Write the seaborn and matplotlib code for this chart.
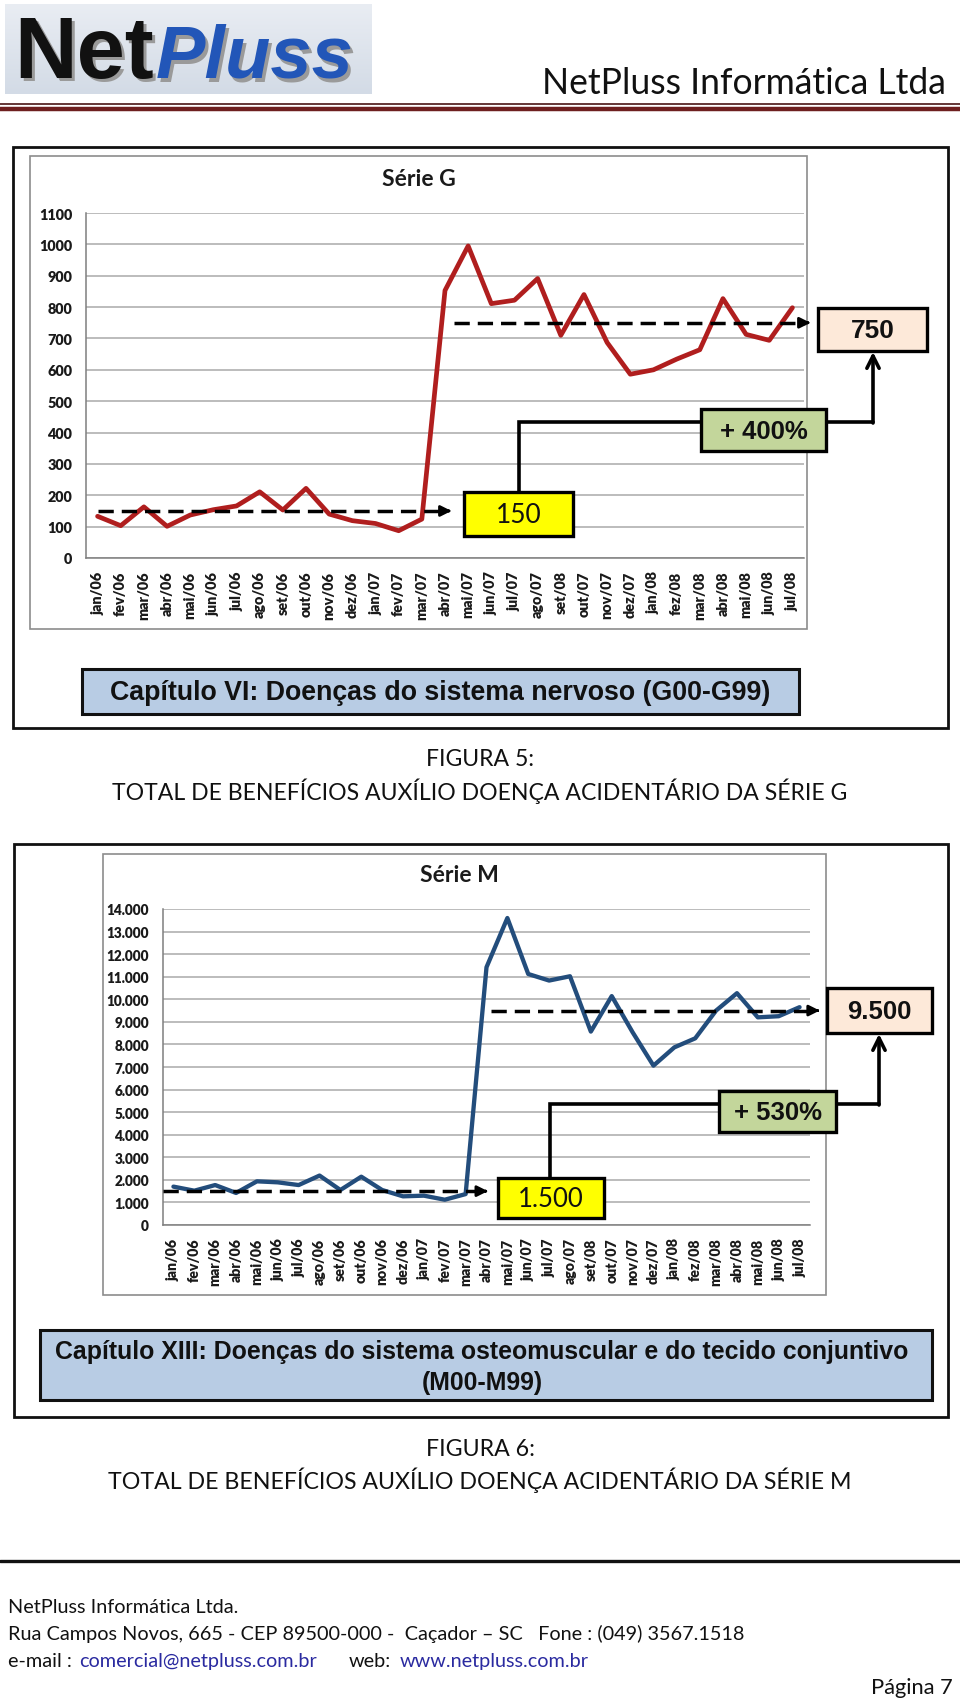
import numpy as np
import pandas as pd
import matplotlib
matplotlib.use("Agg")
import matplotlib.pyplot as plt
import seaborn as sns
from matplotlib.patches import Rectangle
from matplotlib.ticker import FixedLocator

# ---------------- data ----------------
months = ["jan/06", "fev/06", "mar/06", "abr/06", "mai/06", "jun/06", "jul/06", "ago/06",
          "set/06", "out/06", "nov/06", "dez/06", "jan/07", "fev/07", "mar/07", "abr/07",
          "mai/07", "jun/07", "jul/07", "ago/07", "set/08", "out/07", "nov/07", "dez/07",
          "jan/08", "fez/08", "mar/08", "abr/08", "mai/08", "jun/08", "jul/08"]

serie_g = [133, 103, 163, 101, 137, 154, 166, 211, 153, 222, 140, 119, 110, 87, 124,
           853, 995, 811, 822, 891, 710, 840, 687, 586, 600, 634, 664, 827, 713, 694, 798]

serie_m = [1700, 1520, 1770, 1420, 1935, 1890, 1770, 2190, 1550, 2140, 1550, 1270, 1300,
           1120, 1370, 11420, 13600, 11120, 10830, 11020, 8570, 10140, 8540, 7060, 7870,
           8270, 9500, 10270, 9200, 9250, 9650]

g_yticks = list(range(0, 1101, 100))
g_ylabels = [str(v) for v in g_yticks]
m_yticks = list(range(0, 14001, 1000))
m_ylabels = [f"{v:,}".replace(",", ".") for v in m_yticks]

g_levels = [150, 750]
g_level_labels = ["150", "750"]
g_change = "+ 400%"
m_levels = [1500, 9500]
m_level_labels = ["1.500", "9.500"]
m_change = "+ 530%"

# ---------------- style ----------------
sns.set_style("white")
plt.rcParams["font.family"] = ["Lato", "DejaVu Sans"]

W, H = 960, 1699
fig = plt.figure(figsize=(W / 100, H / 100), dpi=100)
fig.patch.set_facecolor("white")


def page_axes(z):
    a = fig.add_axes([0, 0, 1, 1], zorder=z)
    a.set_xlim(0, W)
    a.set_ylim(H, 0)
    a.axis("off")
    a.patch.set_alpha(0)
    return a


bg = page_axes(0)
ov = page_axes(20)


def fit(t, target_w):
    r = fig.canvas.get_renderer()
    w = t.get_window_extent(r).width
    t.set_fontsize(t.get_fontsize() * target_w / w)
    return t


def px_rect(x0, y0, x1, y1):
    return [x0 / W, 1 - y1 / H, (x1 - x0) / W, (y1 - y0) / H]


# ---------------- header ----------------
grad = np.linspace(0, 1, 100).reshape(-1, 1)
bg.imshow(grad, extent=(5, 372, 95, 5), cmap=matplotlib.colors.LinearSegmentedColormap.from_list(
    "lg", ["#e9edf3", "#d3dbe6"]), aspect="auto", zorder=0)
for dx, col in [(3, "#9a9a9a"), (0, "#111111")]:
    t = bg.text(14 + dx, 78 + dx, "Net", fontsize=50, fontweight="bold",
                family=["Liberation Sans", "DejaVu Sans"], color=col, va="baseline", ha="left", zorder=2)
    fit(t, 140)
for dx, col in [(3, "#9a9a9a"), (0, "#2256b8")]:
    t = bg.text(156 + dx, 78 + dx, "Pluss", fontsize=50, fontweight="bold", style="italic",
                family=["Liberation Sans", "DejaVu Sans"], color=col, va="baseline", ha="left", zorder=2)
    fit(t, 198)

t = bg.text(946, 94, "NetPluss Informática Ltda", fontsize=24, color="#111111",
            family=["Liberation Sans Narrow", "Lato", "DejaVu Sans"], ha="right", va="baseline")
fit(t, 404)
bg.plot([0, W], [104.5, 104.5], color="#4a1414", lw=1.2)
bg.plot([0, W], [109.5, 109.5], color="#6e1f1f", lw=3.2)

# ---------------- frames ----------------
bg.add_patch(Rectangle((13, 148), 935, 581, fill=False, ec="#111111", lw=2.0))
bg.add_patch(Rectangle((30, 157), 777, 473, fc="white", ec="#8c8c8c", lw=1.2))
bg.add_patch(Rectangle((14, 845), 934, 573, fill=False, ec="#111111", lw=2.0))
bg.add_patch(Rectangle((103, 855), 723, 441, fc="white", ec="#8c8c8c", lw=1.2))


# ---------------- charts ----------------
def chart(rect, values, yticks, ylabels, color, lw, ylab_fs, xlab_fs):
    ax = fig.add_axes(rect, zorder=5)
    df = pd.DataFrame({"idx": np.arange(len(months)), "valor": values})
    sns.lineplot(data=df, x="idx", y="valor", ax=ax, color=color, linewidth=lw)
    ax.set_xlim(-0.5, len(months) - 0.5)
    ax.set_ylim(yticks[0], yticks[-1])
    ax.set_yticks(yticks)
    ax.set_yticklabels(ylabels, fontweight="heavy", fontsize=ylab_fs, color="#1a1a1a")
    ax.set_xticks(np.arange(len(months)))
    ax.set_xticklabels(months, rotation=90, fontweight="heavy", fontsize=xlab_fs,
                       color="#1a1a1a", ha="center", va="top")
    ax.tick_params(axis="x", which="major", length=0, pad=9)
    ax.xaxis.set_minor_locator(FixedLocator(np.arange(-0.5, len(months), 1.0)))
    ax.tick_params(axis="x", which="minor", length=5, color="#7f7f7f", width=1, direction="out")
    ax.tick_params(axis="y", length=5, color="#7f7f7f", width=1, direction="out", pad=5)
    ax.grid(axis="y", color="#a9a9a9", lw=1.1)
    ax.grid(axis="x", visible=False)
    for s in ["top", "right"]:
        ax.spines[s].set_visible(False)
    for s in ["left", "bottom"]:
        ax.spines[s].set_color("#7f7f7f")
        ax.spines[s].set_linewidth(1.1)
    ax.set_xlabel("")
    ax.set_ylabel("")
    ax.patch.set_alpha(0)
    return ax


def level_arrow(ax, x0, x1, y):
    ax.plot([x0, x1 - 0.35], [y, y], color="black", lw=2.5, ls=(0, (4.4, 2.3)),
            clip_on=False, zorder=6, solid_capstyle="butt", dash_capstyle="butt")
    ax.annotate("", xy=(x1, y), xytext=(x1 - 0.4, y),
                arrowprops=dict(arrowstyle="-|>", color="black", lw=2.0, mutation_scale=16),
                annotation_clip=False, zorder=6)


ax1 = chart(px_rect(86, 214, 804, 559), serie_g, g_yticks, g_ylabels, "#b01e1e", 3.4, 10.4, 10.4)
level_arrow(ax1, 0.0, 15.4, g_levels[0])
level_arrow(ax1, 15.4, 30.9, g_levels[1])

ax2 = chart(px_rect(163, 910, 810, 1226), serie_m, m_yticks, m_ylabels, "#234d7c", 3.1, 9.8, 10.2)
level_arrow(ax2, -0.5, 15.2, m_levels[0])
level_arrow(ax2, 15.2, 31.1, m_levels[1])

bg.text(419, 180, "Série G", fontsize=16.5, fontweight="bold", ha="center", va="center", color="#1a1a1a")
bg.text(459, 876, "Série M", fontsize=16.5, fontweight="bold", ha="center", va="center", color="#1a1a1a")


# ---------------- annotation boxes ----------------
def box(x0, y0, x1, y1, fc, text, fs, bold=True, fam=None):
    ov.add_patch(Rectangle((x0, y0), x1 - x0, y1 - y0, fc=fc, ec="black", lw=2.4, zorder=3))
    ov.text((x0 + x1) / 2, (y0 + y1) / 2 + 1, text, fontsize=fs,
            fontweight="bold" if bold else "normal", ha="center", va="center",
            family=fam or ["Liberation Sans", "DejaVu Sans"], color="#111111", zorder=4)


# Série G
ov.plot([519, 519, 701], [493, 423, 423], color="black", lw=2.6, zorder=2, solid_joinstyle="miter")
ov.plot([826, 873], [423, 423], color="black", lw=2.6, zorder=2)
ov.annotate("", xy=(873, 353), xytext=(873, 424),
            arrowprops=dict(arrowstyle="->", color="black", lw=2.6, mutation_scale=22,
                            shrinkA=0, shrinkB=0), zorder=2)
box(818, 309, 927, 352, "#fde9d9", g_level_labels[1], 19)
box(701, 410, 826, 452, "#c3d69b", g_change, 18.5)
box(464, 493, 573, 537, "#ffff00", g_level_labels[0], 19, bold=False, fam=["Lato", "DejaVu Sans"])

# Série M
ov.plot([550, 550, 719], [1179, 1105, 1105], color="black", lw=2.6, zorder=2, solid_joinstyle="miter")
ov.plot([836, 879], [1105, 1105], color="black", lw=2.6, zorder=2)
ov.annotate("", xy=(879, 1035), xytext=(879, 1106),
            arrowprops=dict(arrowstyle="->", color="black", lw=2.6, mutation_scale=22,
                            shrinkA=0, shrinkB=0), zorder=2)
box(827, 989, 932, 1034, "#fde9d9", m_level_labels[1], 18.5)
box(719, 1092, 836, 1133, "#c3d69b", m_change, 18.5)
box(498, 1179, 604, 1219, "#ffff00", m_level_labels[0], 18.5, bold=False, fam=["Lato", "DejaVu Sans"])

# ---------------- chapter boxes ----------------
bg.add_patch(Rectangle((82, 670), 717, 45, fc="#b8cce4", ec="#111111", lw=2.2, zorder=1))
t = bg.text(440, 693, "Capítulo VI: Doenças do sistema nervoso (G00-G99)", fontsize=17,
            fontweight="bold", family=["Liberation Sans", "DejaVu Sans"], ha="center",
            va="center", color="#111111", zorder=2)
fit(t, 664)
bg.add_patch(Rectangle((40, 1331), 892, 70, fc="#b8cce4", ec="#111111", lw=2.2, zorder=1))
t = bg.text(482, 1352, "Capítulo XIII: Doenças do sistema osteomuscular e do tecido conjuntivo",
            fontsize=17, fontweight="bold", family=["Liberation Sans", "DejaVu Sans"],
            ha="center", va="center", color="#111111", zorder=2)
fit(t, 856)
fs_cap2 = t.get_fontsize()
bg.text(482, 1383, "(M00-M99)", fontsize=fs_cap2, fontweight="bold",
        family=["Liberation Sans", "DejaVu Sans"], ha="center", va="center", color="#111111", zorder=2)

# ---------------- figure captions ----------------
t1 = bg.text(480, 766, "FIGURA 5:", fontsize=16, ha="center", va="baseline", color="#111111")
t2 = bg.text(480, 800, "TOTAL DE BENEFÍCIOS AUXÍLIO DOENÇA ACIDENTÁRIO DA SÉRIE G", fontsize=16,
             ha="center", va="baseline", color="#111111")
fit(t2, 734)
t1.set_fontsize(t2.get_fontsize())
t3 = bg.text(480, 1456, "FIGURA 6:", fontsize=16, ha="center", va="baseline", color="#111111")
t4 = bg.text(480, 1489, "TOTAL DE BENEFÍCIOS AUXÍLIO DOENÇA ACIDENTÁRIO DA SÉRIE M", fontsize=16,
             ha="center", va="baseline", color="#111111")
fit(t4, 744)
t3.set_fontsize(t4.get_fontsize())

# ---------------- footer ----------------
bg.plot([0, W], [1562, 1562], color="#111111", lw=2.4)
f2 = bg.text(8, 1640, "Rua Campos Novos, 665 - CEP 89500-000 -  Caçador – SC   Fone : (049) 3567.1518",
             fontsize=13, ha="left", va="baseline", color="#111111")
fit(f2, 735)
ffs = f2.get_fontsize()
bg.text(8, 1613, "NetPluss Informática Ltda.", fontsize=ffs, ha="left", va="baseline", color="#111111")
bg.text(8, 1667, "e-mail :", fontsize=ffs, ha="left", va="baseline", color="#111111")
bg.text(79, 1667, "comercial@netpluss.com.br", fontsize=ffs, ha="left", va="baseline", color="#2a2aa0")
bg.text(349, 1667, "web:", fontsize=ffs, ha="left", va="baseline", color="#111111")
bg.text(400, 1667, "www.netpluss.com.br", fontsize=ffs, ha="left", va="baseline", color="#2a2aa0")
bg.text(953, 1694, "Página 7", fontsize=ffs * 1.1, ha="right", va="baseline", color="#111111")

fig.savefig("out.png", dpi=100, facecolor="white")
